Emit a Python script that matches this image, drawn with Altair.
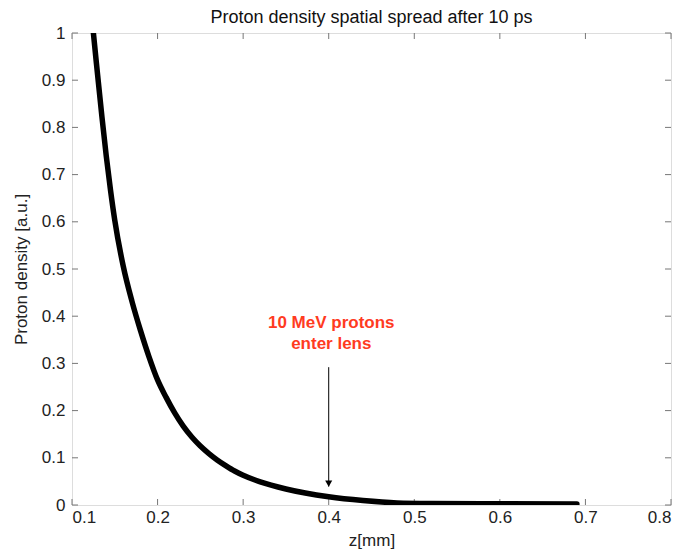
import altair as alt
import pandas as pd

# Curve data
z_mm = [0.123, 0.125, 0.130, 0.135, 0.140, 0.145, 0.150, 0.160, 0.170, 0.180, 0.190,
        0.200, 0.210, 0.220, 0.230, 0.240, 0.250, 0.260, 0.270, 0.280, 0.290,
        0.300, 0.320, 0.350, 0.400, 0.440, 0.480, 0.520, 0.600, 0.690]
density = [1.04, 1.00, 0.91, 0.822, 0.74, 0.667, 0.603, 0.505, 0.432, 0.370, 0.314,
           0.265, 0.228, 0.195, 0.167, 0.144, 0.125, 0.109, 0.095, 0.083, 0.072,
           0.063, 0.049, 0.034, 0.0175, 0.0095, 0.0045, 0.0032, 0.0025, 0.002]

x_ticks = [0.1, 0.2, 0.3, 0.4, 0.5, 0.6, 0.7, 0.8]
y_ticks = [0, 0.1, 0.2, 0.3, 0.4, 0.5, 0.6, 0.7, 0.8, 0.9, 1.0]

note_lines = ["10 MeV protons", "enter lens"]
note_x = [0.403, 0.403]
note_y = [0.386, 0.341]
arrow_x = [0.4]
arrow_top = [0.292]
arrow_tip = [0.039]

W, H = 599, 472
FONT = "Liberation Sans"

curve = pd.DataFrame({"z": z_mm, "d": density})
xt = pd.DataFrame({"v": x_ticks})
yt = pd.DataFrame({"v": y_ticks})
notes = pd.DataFrame({"x": note_x, "y": note_y, "t": note_lines})
arrow = pd.DataFrame({"x": arrow_x, "y": arrow_top, "y2": arrow_tip})

xs = alt.Scale(domain=[0.1, 0.8], nice=False, zero=False)
ys = alt.Scale(domain=[0, 1], nice=False, zero=False)

xaxis = alt.Axis(values=x_ticks, ticks=False, domain=False, grid=False,
                 labelFont=FONT, labelFontSize=17, labelColor="#222",
                 labelPadding=4, title="z[mm]", titleFont=FONT, titleFontSize=17,
                 titleFontWeight="normal", titleColor="#222", titlePadding=7,
                 labelExpr="format(datum.value, '.1f')")
yaxis = alt.Axis(values=y_ticks, ticks=False, domain=False, grid=False,
                 labelFont=FONT, labelFontSize=17, labelColor="#222",
                 labelPadding=7, title="Proton density [a.u.]", titleFont=FONT,
                 titleFontSize=17, titleFontWeight="normal", titleColor="#222",
                 titlePadding=11,
                 labelExpr="datum.value == 0 ? '0' : datum.value == 1 ? '1' : format(datum.value, '.1f')")

line = alt.Chart(curve).mark_line(color="black", strokeWidth=5.5, clip=True,
                                  strokeCap="round", strokeJoin="round",
                                  interpolate="monotone").encode(
    x=alt.X("z:Q", scale=xs, axis=xaxis),
    y=alt.Y("d:Q", scale=ys, axis=yaxis),
)

tick_style = dict(color="#777", strokeWidth=1)
xb = alt.Chart(xt).mark_rule(**tick_style).encode(
    x=alt.X("v:Q", scale=xs), y=alt.value(H), y2=alt.value(H - 6))
xtp = alt.Chart(xt).mark_rule(**tick_style).encode(
    x=alt.X("v:Q", scale=xs), y=alt.value(0), y2=alt.value(6))
yl = alt.Chart(yt).mark_rule(**tick_style).encode(
    y=alt.Y("v:Q", scale=ys), x=alt.value(0), x2=alt.value(6))
yr = alt.Chart(yt).mark_rule(**tick_style).encode(
    y=alt.Y("v:Q", scale=ys), x=alt.value(W), x2=alt.value(W - 6))

text = alt.Chart(notes).mark_text(color="#ff3b1f", font=FONT, fontSize=17,
                                  fontWeight="bold", align="center",
                                  baseline="middle").encode(
    x=alt.X("x:Q", scale=xs), y=alt.Y("y:Q", scale=ys), text="t:N")

arrow_line = alt.Chart(arrow).mark_rule(color="black", strokeWidth=1).encode(
    x=alt.X("x:Q", scale=xs), y=alt.Y("y:Q", scale=ys), y2="y2:Q")
arrow_head = alt.Chart(arrow).mark_point(shape="triangle-down", filled=True,
                                         color="black", size=50, opacity=1,
                                         yOffset=-3).encode(
    x=alt.X("x:Q", scale=xs), y=alt.Y("y2:Q", scale=ys))

chart = alt.layer(xb, xtp, yl, yr, line, arrow_line, arrow_head, text).properties(
    width=W, height=H,
    title=alt.TitleParams("Proton density spatial spread after 10 ps", font=FONT,
                          fontSize=18, fontWeight="normal", color="#111",
                          anchor="middle", offset=-3),
    autosize=alt.AutoSizeParams(type="none"),
    padding={"left": 64, "top": 25, "right": 6, "bottom": 45},
).configure_view(stroke="#333", strokeWidth=1.2).configure(background="white")

chart.save("out.html", embed_options={"renderer": "svg", "actions": False})
